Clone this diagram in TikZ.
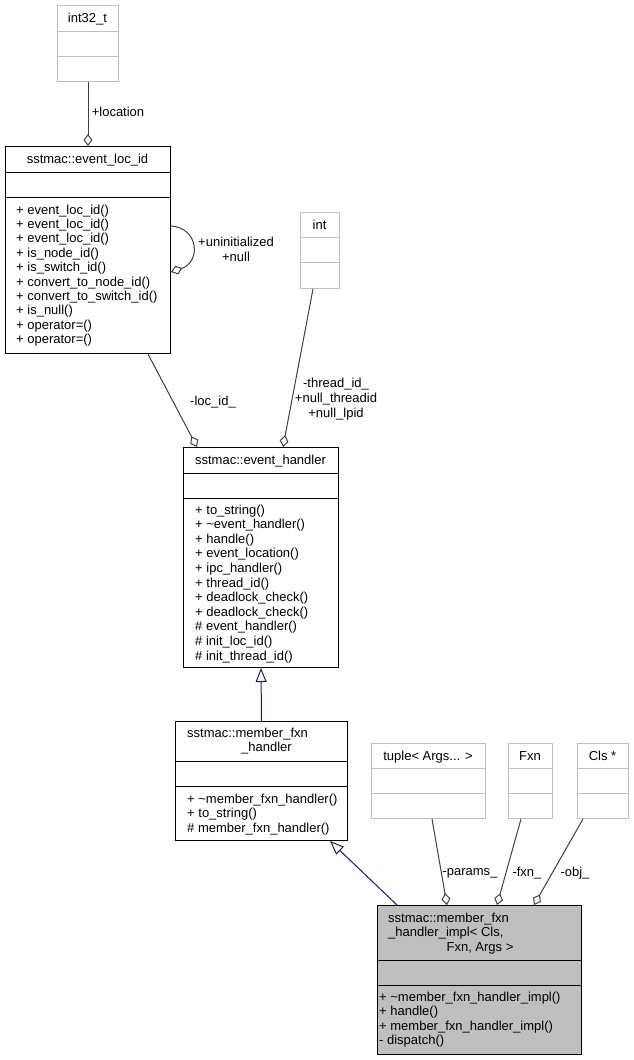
\documentclass[tikz,border=0pt]{standalone}
\usepackage{fontspec}
\setmainfont{Liberation Sans}
\usetikzlibrary{arrows.meta}

\definecolor{boxgray}{HTML}{BFBFBF}
\definecolor{edgegray}{HTML}{404040}
\definecolor{inhblue}{HTML}{191970}

\tikzset{
  cls/.style={draw=black, line width=1pt, inner sep=0pt, anchor=north west},
  extcls/.style={cls, draw=boxgray},
  ttl/.style={anchor=base, inner sep=0pt},
  ttlw/.style={anchor=base west, inner sep=0pt},
  member/.style={anchor=base west, inner sep=0pt},
  lbl/.style={align=center, inner sep=0pt, font=\fontsize{13}{15}\selectfont},
  agg/.style={draw=edgegray, line width=1pt, -{Diamond[open, length=12pt, width=9pt]}},
  inh/.style={draw=inhblue, line width=1pt, -{Triangle[open, length=14pt, width=11pt]}},
}

% compartment line: box, colour, depth below the top
\newcommand{\clssep}[3]{%
  \draw[#2, line width=1pt] ([yshift=-#3pt]#1.north west) -- ([yshift=-#3pt]#1.north east);}

\begin{document}
\begin{tikzpicture}[x=1pt, y=-1pt, font=\fontsize{13}{14.5}\selectfont]
  \useasboundingbox (0,0) rectangle (633,1060);

  % external types
  \node (int32) [extcls, minimum width=61pt, minimum height=76pt] at (57,5) {};
  \clssep{int32}{boxgray}{26} \clssep{int32}{boxgray}{51}
  \node (int32-t) [ttl] at (87.5,22) {int32\_t};

  \node (intt) [extcls, minimum width=39pt, minimum height=76pt] at (300,212) {};
  \clssep{intt}{boxgray}{25} \clssep{intt}{boxgray}{50}
  \node (intt-t) [ttl] at (319.5,229) {int};

  \node (tpl) [extcls, minimum width=114pt, minimum height=75pt] at (371,743) {};
  \clssep{tpl}{boxgray}{25} \clssep{tpl}{boxgray}{50}
  \node (tpl-t) [ttl] at (428,760) {tuple< Args... >};

  \node (fxn) [extcls, minimum width=44pt, minimum height=75pt] at (508,743) {};
  \clssep{fxn}{boxgray}{25} \clssep{fxn}{boxgray}{50}
  \node (fxn-t) [ttl] at (530,760) {Fxn};

  \node (clsp) [extcls, minimum width=51pt, minimum height=75pt] at (577,743) {};
  \clssep{clsp}{boxgray}{25} \clssep{clsp}{boxgray}{50}
  \node (clsp-t) [ttl] at (602.5,760) {Cls *};

  % sstmac::event_loc_id
  \node (evloc) [cls, minimum width=165pt, minimum height=207pt] at (5,146) {};
  \clssep{evloc}{black}{26} \clssep{evloc}{black}{51}
  \node (evloc-t) [ttl] at (87.5,163) {sstmac::event\_loc\_id};
  \foreach \m [count=\i from 0] in {+ event\_loc\_id(), + event\_loc\_id(),
      + event\_loc\_id(), + is\_node\_id(), + is\_switch\_id(),
      + convert\_to\_node\_id(), + convert\_to\_switch\_id(), + is\_null(),
      + operator=(), + operator=()}
    \node (evloc-m\i) [member] at (16,214+14.4*\i) {\m};

  % sstmac::event_handler
  \node (evh) [cls, minimum width=155pt, minimum height=220pt] at (183,447) {};
  \clssep{evh}{black}{26} \clssep{evh}{black}{51}
  \node (evh-t) [ttl] at (260.5,464) {sstmac::event\_handler};
  \foreach \m [count=\i from 0] in {+ to\_string(), + \textasciitilde event\_handler(),
      + handle(), + event\_location(), + ipc\_handler(), + thread\_id(),
      + deadlock\_check(), + deadlock\_check(), \# event\_handler(),
      \# init\_loc\_id(), \# init\_thread\_id()}
    \node (evh-m\i) [member] at (195,514+14.6*\i) {\m};

  % sstmac::member_fxn_handler
  \node (mfh) [cls, minimum width=172pt, minimum height=119pt] at (175,721) {};
  \clssep{mfh}{black}{40} \clssep{mfh}{black}{65}
  \node (mfh-t1) [ttlw] at (187,737) {sstmac::member\_fxn};
  \node (mfh-t2) [ttlw] at (241,751.5) {\_handler};
  \foreach \m [count=\i from 0] in {+ \textasciitilde member\_fxn\_handler(),
      + to\_string(), \# member\_fxn\_handler()}
    \node (mfh-m\i) [member] at (187,803+14.5*\i) {\m};

  % sstmac::member_fxn_handler_impl
  \node (impl) [cls, fill=boxgray, minimum width=204pt, minimum height=149pt] at (377,905) {};
  \clssep{impl}{black}{55} \clssep{impl}{black}{80}
  \node (impl-t1) [ttlw] at (388,922) {sstmac::member\_fxn};
  \node (impl-t2) [ttlw] at (388,936.5) {\_handler\_impl< Cls,};
  \node (impl-t3) [ttl] at (480,951) {Fxn, Args >};
  \foreach \m [count=\i from 0] in {+ \textasciitilde member\_fxn\_handler\_impl(),
      + handle(), + member\_fxn\_handler\_impl(), - dispatch()}
    \node (impl-m\i) [member] at (379,1001.5+14.4*\i) {\m};

  % usage
  \draw[agg] (int32.south) -- (evloc.north);
  \node (l-loc) [lbl] at (118,112) {+location};
  \draw[agg] ([yshift=-80pt]evloc.north east)
    .. controls +(28,2) and +(30,-10) .. ([yshift=-126pt]evloc.north east);
  \node (l-self) [lbl] at (236,249) {+uninitialized\\+null};
  \draw[agg] ([xshift=-23pt]evloc.south east) -- ([xshift=14pt]evh.north west);
  \node (l-locid) [lbl] at (213,402) {-loc\_id\_};
  \draw[agg] ([xshift=13pt]intt.south west) -- ([xshift=100pt]evh.north west);
  \node (l-thread) [lbl] at (336,399) {-thread\_id\_\\+null\_threadid\\+null\_lpid};
  \draw[agg] ([xshift=61pt]tpl.south west) -- ([xshift=70pt]impl.north west);
  \node (l-params) [lbl] at (470,873) {-params\_};
  \draw[agg] ([xshift=13pt]fxn.south west) -- ([xshift=120pt]impl.north west);
  \node (l-fxn) [lbl] at (527,873) {-fxn\_};
  \draw[agg] ([xshift=6pt]clsp.south west) -- ([xshift=157pt]impl.north west);
  \node (l-obj) [lbl] at (575,873) {-obj\_};

  % inheritance
  \draw[inh] (mfh.north) -- (evh.south);
  \draw[inh] ([xshift=20pt]impl.north west) -- ([xshift=-18pt]mfh.south east);
\end{tikzpicture}
\end{document}
